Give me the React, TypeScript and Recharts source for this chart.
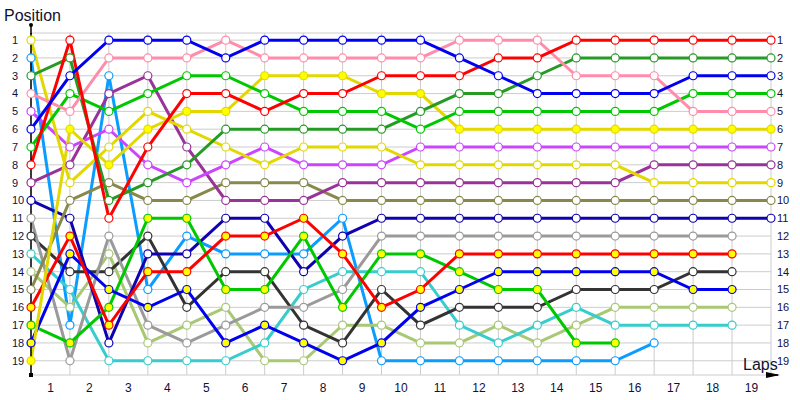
import React from 'react';
import { LineChart, Line, XAxis, YAxis, CartesianGrid } from 'recharts';

// Lap numbers (0 = starting grid)
const laps = [0, 1, 2, 3, 4, 5, 6, 7, 8, 9, 10, 11, 12, 13, 14, 15, 16, 17, 18, 19];
// Lap labels are drawn centred between two lap points
const lapLabelTicks = [0.5, 1.5, 2.5, 3.5, 4.5, 5.5, 6.5, 7.5, 8.5, 9.5, 10.5, 11.5, 12.5, 13.5, 14.5, 15.5, 16.5, 17.5, 18.5];
const positionTicks = [1, 2, 3, 4, 5, 6, 7, 8, 9, 10, 11, 12, 13, 14, 15, 16, 17, 18, 19];

// Position of each driver at each lap
const redA = [8, 1, 11, 7, 4, 4, 5, 4, 4, 3, 3, 3, 2, 2, 1, 1, 1, 1, 1, 1];
const redB = [16, 12, 17, 14, 14, 12, 12, 11, 13, 16, 15, 13, 13, 13, 13, 13, 13, 13, 13, null];
const blueA = [6, 3, 1, 1, 1, 2, 1, 1, 1, 1, 1, 2, 3, 4, 4, 4, 4, 3, 3, 3];
const blueB = [18, 13, 15, 16, 15, 18, 17, 18, 19, 18, 16, 15, 14, 14, 14, 14, 14, 15, 15, null];
const greenA = [7, 4, 5, 4, 3, 3, 4, 5, 5, 5, 6, 5, 5, 5, 5, 5, 5, 4, 4, 4];
const greenB = [17, 18, 16, 11, 11, 15, 15, 12, 16, 13, 13, 14, 15, 15, 18, 18, null, null, null, null];
const yellowA = [1, 9, 7, 5, 6, 7, 8, 7, 7, 7, 8, 8, 8, 8, 8, 8, 9, 9, 9, 9];
const yellowB = [19, 6, 8, 6, 5, 5, 3, 3, 3, 4, 4, 6, 6, 6, 6, 6, 6, 6, 6, 6];
const darkGreen = [3, 2, 10, 9, 8, 6, 6, 6, 6, 6, 5, 4, 4, 3, 2, 2, 2, 2, 2, 2];
const pink = [4, 5, 2, 2, 2, 1, 2, 2, 2, 2, 2, 1, 1, 1, 3, 3, 3, 5, 5, 5];
const violet = [5, 7, 6, 8, 9, 8, 7, 8, 8, 8, 7, 7, 7, 7, 7, 7, 7, 7, 7, 7];
const purple = [9, 8, 4, 3, 7, 10, 10, 10, 9, 9, 9, 9, 9, 9, 9, 9, 8, 8, 8, 8];
const olive = [15, 10, 9, 10, 10, 9, 9, 9, 10, 10, 10, 10, 10, 10, 10, 10, 10, 10, 10, 10];
const navy = [10, 11, 18, 13, 13, 11, 11, 14, 12, 11, 11, 11, 11, 11, 11, 11, 11, 11, 11, 11];
const gray = [11, 19, 12, 17, 18, 17, 16, 16, 15, 12, 12, 12, 12, 12, 12, 12, 12, 12, 12, null];
const charcoal = [12, 14, 14, 12, 16, 14, 14, 17, 18, 15, 17, 16, 16, 16, 15, 15, 15, 14, 14, null];
const teal = [13, 15, 19, 19, 19, 19, 18, 15, 14, 14, 14, 17, 18, 17, 16, 17, 17, 17, 17, null];
const lime = [14, 16, 13, 18, 17, 16, 19, 19, 17, 17, 18, 18, 17, 18, 17, 16, 16, 16, 16, null];
const skyBlue = [2, 17, 3, 15, 12, 13, 13, 13, 11, 19, 19, 19, 19, 19, 19, 19, 18, null, null, null];

type Series = { key: string; values: (number | null)[]; color: string; filled: boolean };

const series: Series[] = [
  { key: 'skyBlue', values: skyBlue, color: '#0a9cff', filled: false },
  { key: 'lime', values: lime, color: '#a8c874', filled: false },
  { key: 'teal', values: teal, color: '#38cccc', filled: false },
  { key: 'charcoal', values: charcoal, color: '#333333', filled: false },
  { key: 'gray', values: gray, color: '#9a9a9a', filled: false },
  { key: 'navy', values: navy, color: '#1000b0', filled: false },
  { key: 'olive', values: olive, color: '#88884c', filled: false },
  { key: 'purple', values: purple, color: '#993399', filled: false },
  { key: 'violet', values: violet, color: '#cc44ff', filled: false },
  { key: 'greenB', values: greenB, color: '#00c800', filled: true },
  { key: 'blueB', values: blueB, color: '#0000f0', filled: true },
  { key: 'redB', values: redB, color: '#ff0000', filled: true },
  { key: 'yellowB', values: yellowB, color: '#e2d800', filled: true },
  { key: 'yellowA', values: yellowA, color: '#e2d800', filled: false },
  { key: 'darkGreen', values: darkGreen, color: '#259a25', filled: false },
  { key: 'greenA', values: greenA, color: '#00c800', filled: false },
  { key: 'pink', values: pink, color: '#ff8caa', filled: false },
  { key: 'redA', values: redA, color: '#ff0000', filled: false },
  { key: 'blueA', values: blueA, color: '#0000f0', filled: false },
];

const table = laps.map((lap, i) => {
  const row: Record<string, number | null> = { lap };
  series.forEach((s) => {
    row[s.key] = s.values[i];
  });
  return row;
});

const TICK_COLOR = '#101040';
const FONT = "'Liberation Sans', Arial, sans-serif";

const LeftTick = (props: any) => {
  const { y, payload } = props;
  return (
    <text x={12} y={y} dy="0.355em" textAnchor="start" fontSize={11} fontFamily={FONT} fill={TICK_COLOR}>
      {payload.value}
    </text>
  );
};

const RightTick = (props: any) => {
  const { x, y, payload } = props;
  return (
    <text x={x} y={y} dy="0.355em" textAnchor="start" fontSize={11} fontFamily={FONT} fill={TICK_COLOR}>
      {payload.value}
    </text>
  );
};

const LapTick = (props: any) => {
  const { x, payload } = props;
  return (
    <text x={x} y={392} textAnchor="middle" fontSize={12} fontFamily={FONT} fill={TICK_COLOR}>
      {String(payload.value + 0.5)}
    </text>
  );
};

export default function App() {
  return (
    <div style={{ position: 'absolute', left: 0, top: 0, width: 800, height: 400, background: '#fff' }}>
      <LineChart
        width={800}
        height={400}
        data={table}
        margin={{ top: 33, right: 0, left: 0, bottom: 0 }}
      >
        <CartesianGrid xAxisId="grid" yAxisId="left" stroke="#cccccc" strokeWidth={1} />
        <XAxis
          xAxisId="grid"
          dataKey="lap"
          type="number"
          domain={[0, 19]}
          ticks={laps}
          hide
        />
        <XAxis
          xAxisId="lbl"
          dataKey="lap"
          type="number"
          domain={[0, 19]}
          ticks={lapLabelTicks}
          interval={0}
          height={25}
          tickLine={false}
          axisLine={{ stroke: '#000', strokeWidth: 1.5 }}
          tick={<LapTick />}
        />
        <YAxis
          yAxisId="left"
          type="number"
          reversed
          domain={[0.6, 19.8]}
          allowDataOverflow
          ticks={positionTicks}
          interval={0}
          width={31}
          tickLine={false}
          axisLine={{ stroke: '#000', strokeWidth: 1.5 }}
          tick={<LeftTick />}
        />
        <YAxis
          yAxisId="right"
          orientation="right"
          type="number"
          reversed
          domain={[0.6, 19.8]}
          allowDataOverflow
          ticks={positionTicks}
          interval={0}
          width={29}
          tickLine={false}
          tickSize={0}
          tickMargin={6}
          axisLine={false}
          tick={<RightTick />}
        />
        {series.map((s) => (
          <Line
            key={s.key}
            xAxisId="grid"
            yAxisId="left"
            dataKey={s.key}
            type="linear"
            stroke={s.color}
            strokeWidth={3}
            connectNulls={false}
            isAnimationActive={false}
            dot={{ r: 4, fill: s.filled ? '#ffff00' : '#ffffff', stroke: s.color, strokeWidth: 1.2 }}
            activeDot={false}
          />
        ))}
      </LineChart>
      <svg
        width={800}
        height={400}
        style={{ position: 'absolute', left: 0, top: 0, pointerEvents: 'none' }}
      >
        <text x={4} y={21} fontSize={16} fontFamily={FONT} fill="#101030">
          Position
        </text>
        <line x1={31} y1={25} x2={31} y2={34} stroke="#000" strokeWidth={1.5} />
        <circle cx={31} cy={25} r={2} fill="#000" />
        <rect x={29} y={373} width={4} height={4} fill="#000" />
        <line x1={770} y1={375} x2={778} y2={375} stroke="#000" strokeWidth={1.5} />
        <polygon points="766,372 780,375 766,378" fill="#000" />
        <text x={743} y={370} fontSize={16} fontFamily={FONT} fill="#101030">
          Laps
        </text>
      </svg>
    </div>
  );
}
